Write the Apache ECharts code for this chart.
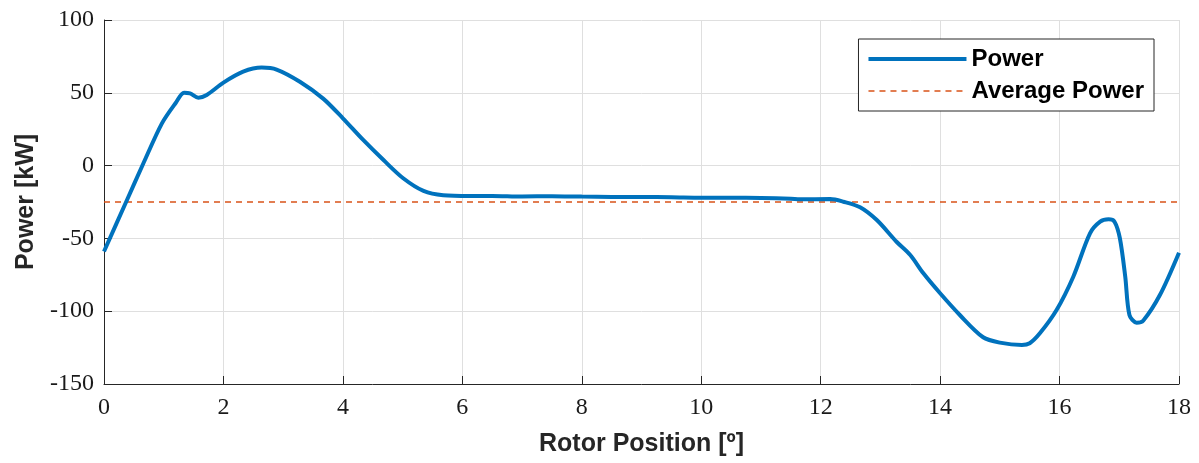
<!DOCTYPE html>
<html lang="en">
<head>
    <meta charset="UTF-8">
    <title>Power</title>
    <style>
        body{ margin:0; background:#fff; }
        #chart{ width:1199px; height:463px; }
    </style>
</head>
<body>
    <div id="chart"></div>
    <script src="https://cdn.jsdelivr.net/npm/echarts@6/dist/echarts.min.js"></script>
    <script>
        // rotor position [deg] and power [kW]
        var position = [0, 0.37, 0.66, 0.97, 1.2, 1.34, 1.44, 1.58, 1.72, 2.0, 2.33, 2.64, 2.89, 3.28, 3.67, 4.0, 4.34, 4.68, 5.01, 5.35, 5.68, 6.13,
            6.5, 7.0, 7.5, 8.0, 8.5, 9.0, 9.5, 10.0, 10.5, 11.0, 11.5, 11.65, 12.16, 12.38, 12.66, 12.94, 13.27, 13.5, 13.72, 14.0,
            14.33, 14.72, 15.0, 15.37, 15.5, 15.67, 15.95, 16.23, 16.51, 16.68, 16.82, 16.92, 17.01, 17.1, 17.17, 17.29, 17.4, 17.68, 18.0];
        var power = [-59, -25, 1.6, 29, 43, 50, 49.6, 46.6, 48.5, 57, 64.5, 67.3, 66, 57.6, 46, 32.5, 17.6, 3.8, -8.7, -17.4, -20.4, -20.9,
            -20.8, -21.2, -21.0, -21.3, -21.5, -21.6, -21.7, -22.0, -22.0, -22.2, -22.7, -23.1, -23, -24.8, -28.6, -37.4, -52.3, -61.4, -74, -87.7,
            -102.6, -117.9, -121.6, -123.2, -122, -115.2, -99.2, -76.3, -46.5, -38.5, -36.9, -38.5, -49.9, -76.3, -102.6, -107.9, -106.5, -88.9, -59.8];
        var avgPosition = [0, 18];
        var avgPower = [-25, -25];

        var xTicks = [0, 2, 4, 6, 8, 10, 12, 14, 16, 18];
        var yTicks = [-150, -100, -50, 0, 50, 100];

        function pairs(xs, ys){
            return xs.map(function(x, i){ return [x, ys[i]]; });
        }

        var myecharts = echarts.init(document.getElementById('chart'));
        var tickFont = { fontFamily:'Liberation Serif', fontSize:24, color:'#1a1a1a' };
        var nameFont = { fontFamily:'Liberation Sans', fontWeight:'bold', fontSize:25, color:'#262626' };
        var option = {
            animation:false,
            grid:{ left:104, right:20, top:20, bottom:79, containLabel:false },
            legend:{
                right:45, top:39,
                orient:'vertical',
                padding:[8, 10, 8, 8],
                itemGap:8,
                itemWidth:98,
                itemHeight:18,
                borderColor:'#262626',
                borderWidth:1,
                backgroundColor:'#fff',
                itemStyle:{ opacity:0 },
                textStyle:{ fontFamily:'Liberation Sans', fontWeight:'bold', fontSize:24, color:'#000' },
                data:[
                    { name:'Power', lineStyle:{ width:4 } },
                    { name:'Average Power', lineStyle:{ width:1.5 } }
                ]
            },
            xAxis:{
                type:'value',
                min:xTicks[0], max:xTicks[xTicks.length-1], interval:2,
                name:'Rotor Position [º]',
                nameLocation:'middle', nameGap:48,
                nameTextStyle:nameFont,
                axisLine:{ onZero:false, lineStyle:{ color:'#262626', width:1 } },
                axisTick:{ inside:true, length:8, lineStyle:{ color:'#262626' } },
                axisLabel:Object.assign({ margin:12 }, tickFont),
                splitLine:{ show:true, lineStyle:{ color:'#dfdfdf', width:1 } }
            },
            yAxis:{
                type:'value',
                min:yTicks[0], max:yTicks[yTicks.length-1], interval:50,
                name:'Power [kW]',
                nameLocation:'middle', nameGap:64,
                nameTextStyle:nameFont,
                axisLine:{ show:true, onZero:false, lineStyle:{ color:'#262626', width:1 } },
                axisTick:{ show:true, inside:true, length:8, lineStyle:{ color:'#262626' } },
                axisLabel:Object.assign({ margin:10 }, tickFont),
                splitLine:{ show:true, lineStyle:{ color:'#dfdfdf', width:1 } }
            },
            series:[
                {
                    name:'Power',
                    type:'line',
                    data:pairs(position, power),
                    smooth:0.3,
                    symbol:'none',
                    lineStyle:{ color:'#0072BD', width:4 },
                    itemStyle:{ color:'#0072BD' },
                    z:3
                },
                {
                    name:'Average Power',
                    type:'line',
                    data:pairs(avgPosition, avgPower),
                    symbol:'none',
                    lineStyle:{ color:'#D95319', width:1.5, type:[6, 5] },
                    itemStyle:{ color:'#D95319' },
                    z:2
                }
            ]
        };
        myecharts.setOption(option);
    </script>
</body>
</html>
